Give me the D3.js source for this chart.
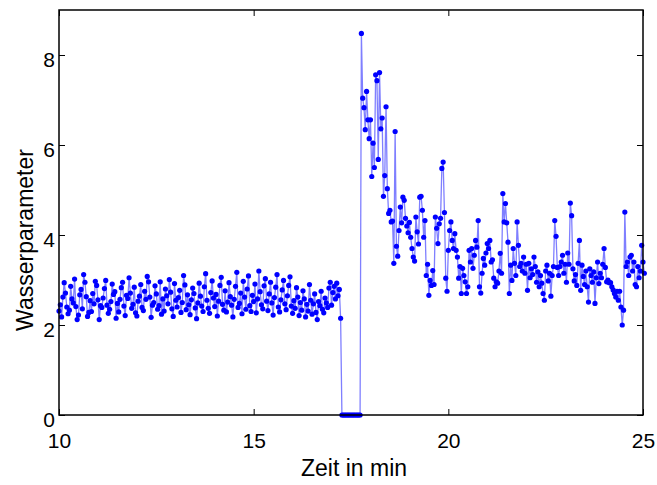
<!DOCTYPE html>
<html lang="de">
<head>
  <meta charset="utf-8">
  <script src="https://d3js.org/d3.v7.min.js"></script>
  <style>
    body { margin: 0; background: #fff; }
    text { font-family: "Liberation Sans", Arial, sans-serif; }
  </style>
</head>
<body>
<script type="text/javascript">
  var w = 657;
  var h = 485;

  // Zeitachse: Start 10 min, eine Messung alle 2 s
  var tStart = 10;
  var tStep = 1 / 30;

  var xTicks = [10, 15, 20, 25];
  var yTicks = [0, 2, 4, 6, 8];

  // vor dem Ausfall (10 ... 17.25 min)
  var valsBefore = [
    2.31,2.45,2.18,2.62,2.94,2.71,2.40,2.25,2.33,2.86,2.58,2.49,3.02,2.41,2.12,
    2.22,2.67,2.79,2.36,3.12,2.95,2.63,2.19,2.28,2.54,2.30,2.70,2.47,2.97,2.88,
    2.56,2.12,2.43,2.39,2.60,2.81,2.99,2.44,2.26,2.35,2.52,2.91,2.68,2.74,2.15,
    2.48,2.29,2.57,2.83,2.95,2.42,2.21,2.66,2.59,3.05,2.71,2.37,2.46,2.84,2.27,
    2.20,2.53,2.64,2.90,2.39,2.32,2.75,2.57,3.08,2.96,2.62,2.17,2.44,2.50,2.87,
    2.69,2.35,2.43,2.96,2.24,2.58,2.31,2.80,2.65,2.47,3.01,2.73,2.36,2.19,2.92,
    2.55,2.40,2.61,2.77,2.28,2.50,3.10,2.89,2.34,2.67,2.45,2.23,2.56,2.82,2.70,
    2.38,2.14,2.49,2.93,2.64,2.42,2.30,2.85,3.14,2.55,2.37,2.26,2.72,2.98,2.60,
    2.41,2.68,2.20,2.53,2.88,3.06,2.46,2.33,2.76,2.29,2.51,2.94,2.63,2.44,2.18,
    2.57,2.86,3.17,2.39,2.48,2.71,2.25,2.97,2.62,2.35,2.80,3.09,2.43,2.30,2.66,
    2.52,2.91,2.27,2.58,3.20,2.74,2.45,2.36,2.87,3.03,2.53,2.32,2.69,2.95,2.49,
    2.22,2.61,2.84,3.12,2.40,2.29,2.56,2.78,2.99,2.47,2.34,2.65,2.88,3.07,2.42,
    2.26,2.54,2.37,2.83,2.62,2.21,2.50,2.33,2.76,2.58,2.18,2.46,2.31,2.90,2.55,
    2.24,2.47,2.69,2.28,2.12,2.52,2.43,2.75,2.35,2.27,2.60,2.49,2.39,2.82,2.95,
    2.44,2.72,2.86,2.58,2.93,2.65,2.79,2.15
  ];

  // Sensor ausgefallen
  var valsGap = [0,0,0,0,0,0,0,0,0,0,0,0,0,0,0];

  // Spitze nach dem Neustart
  var valsPeak = [
    8.48,7.04,6.83,6.34,7.19,6.56,6.14,6.56,5.30,6.04,5.50,7.56,7.43,5.68,7.61,
    6.36,6.60,4.86,5.32,6.85,5.03,4.48,4.55,4.29
  ];

  // danach (ca. 18.6 ... 25 min)
  var valsAfter = [
    4.31,3.37,6.30,3.75,3.53,4.10,4.62,4.27,4.84,4.77,4.37,4.20,4.05,4.28,3.95,
    3.70,3.51,3.42,4.40,4.07,3.80,4.84,4.86,4.55,3.95,4.32,3.10,3.35,2.66,2.99,
    2.88,3.21,2.90,4.40,4.15,3.81,4.25,4.37,5.48,5.62,4.50,3.04,2.75,3.66,4.10,
    4.29,3.88,3.70,4.03,3.66,3.51,3.04,3.30,2.70,3.26,3.10,2.96,2.70,2.85,3.66,
    3.40,3.70,3.26,3.55,3.88,3.73,4.32,2.85,2.71,3.15,3.48,3.33,3.60,3.81,3.70,
    3.88,3.40,3.45,3.04,2.85,2.96,2.93,3.20,3.59,3.15,4.92,4.29,4.70,4.27,3.84,
    2.70,3.33,2.99,3.70,3.37,3.10,4.29,3.77,3.30,3.37,3.20,3.51,3.15,3.35,2.77,
    3.37,3.05,3.25,3.12,3.51,3.30,2.95,3.18,2.85,3.10,2.93,2.70,2.55,3.20,3.33,
    2.98,3.15,2.64,3.10,3.30,4.32,3.97,3.28,3.10,3.30,3.40,3.55,3.15,3.35,2.95,
    3.60,3.35,4.71,4.43,3.25,2.98,3.12,2.88,3.37,3.88,2.77,3.33,3.08,2.90,3.20,
    2.85,2.51,3.25,3.10,2.95,3.18,2.48,3.05,3.40,2.92,3.15,3.05,3.35,3.70,3.28,
    2.96,3.00,2.94,2.94,2.85,2.78,2.70,2.62,2.75,2.55,2.75,2.40,2.00,2.33,4.51,
    3.30,3.40,3.10,3.51,3.55,3.20,3.40,2.90,2.85,3.30,3.05,3.20,3.77,3.40,3.15
  ];

  var values = valsBefore.concat(valsGap, valsPeak, valsAfter);
  var data = values.map(function (v, i) { return {t: tStart + i * tStep, v: v}; });

  var margin = {top: 10, right: 14, bottom: 70, left: 59};

  var svg = d3.select("body")
          .append("svg")
          .attr("width", w)
          .attr("height", h);

  var x = d3.scaleLinear().domain([10, 25]).range([margin.left, w - margin.right]);
  var y = d3.scaleLinear().domain([0, 9]).range([h - margin.bottom, margin.top]);

  var line = d3.line()
          .x(function (d) { return x(d.t); })
          .y(function (d) { return y(d.v); });

  svg.append("path")
    .datum(data)
    .attr("d", line)
    .attr("fill", "none")
    .attr("stroke", "#0000ff")
    .attr("stroke-opacity", 0.5)
    .attr("stroke-width", 1.3);

  svg.selectAll("circle.pt")
    .data(data)
    .join("circle")
    .attr("class", "pt")
    .attr("cx", function (d) { return x(d.t); })
    .attr("cy", function (d) { return y(d.v); })
    .attr("r", 2.6)
    .attr("fill", "#0000ff");

  // Achsen im MATLAB-Stil, Ticks nach innen
  var tl = 6;
  svg.append("g")
    .attr("transform", `translate(0,${y(0)})`)
    .call(d3.axisBottom(x).tickValues(xTicks).tickSize(-tl).tickPadding(18))
    .call(function (g) { g.select(".domain").remove(); });

  svg.append("g")
    .attr("transform", `translate(0,${y(9)})`)
    .call(d3.axisTop(x).tickValues(xTicks).tickSize(-tl).tickFormat(""))
    .call(function (g) { g.select(".domain").remove(); });

  var yAxisG = svg.append("g")
    .attr("transform", `translate(${x(10)},0)`)
    .call(d3.axisLeft(y).tickValues(yTicks).tickSize(-tl).tickPadding(4))
    .call(function (g) { g.select(".domain").remove(); });
  yAxisG.selectAll(".tick text").attr("dy", "0.55em");

  svg.append("g")
    .attr("transform", `translate(${x(25)},0)`)
    .call(d3.axisRight(y).tickValues(yTicks).tickSize(-tl).tickFormat(""))
    .call(function (g) { g.select(".domain").remove(); });

  svg.selectAll(".tick text")
    .attr("font-size", 21)
    .attr("font-family", "Liberation Sans, Arial, sans-serif")
    .attr("fill", "#000");
  svg.selectAll(".tick line").attr("stroke", "#000");

  svg.append("rect")
    .attr("x", x(10))
    .attr("y", y(9))
    .attr("width", x(25) - x(10))
    .attr("height", y(0) - y(9))
    .attr("fill", "none")
    .attr("stroke", "#000")
    .attr("stroke-width", 1.5);

  svg.append("text")
    .attr("x", (x(10) + x(25)) / 2 + 3)
    .attr("y", h - 9)
    .attr("text-anchor", "middle")
    .attr("font-size", 23)
    .text("Zeit in min");

  svg.append("text")
    .attr("transform", `translate(33,240) rotate(-90)`)
    .attr("text-anchor", "middle")
    .attr("font-size", 23)
    .text("Wasserparameter");
</script>
</body>
</html>
